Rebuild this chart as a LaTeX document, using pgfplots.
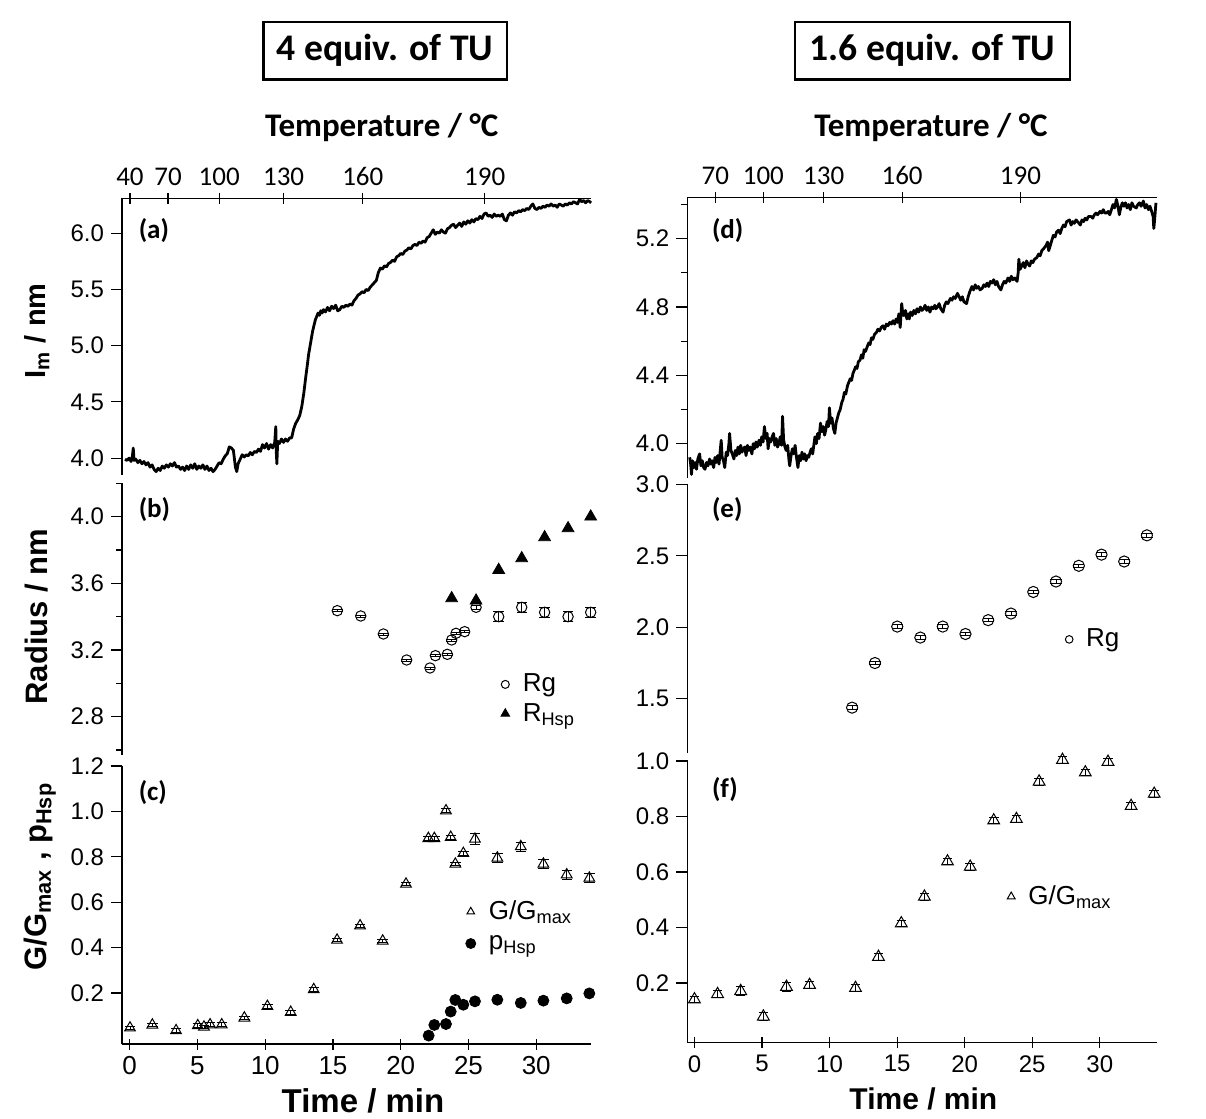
\documentclass[border=0pt]{standalone}
\usepackage{fontspec}
\setmainfont{Carlito}
\newfontfamily\arial{Liberation Sans}
\usepackage{graphicx}
\usepackage{pgfplots}
\pgfplotsset{compat=1.18}

\pgfplotsset{
  base/.style={
    scale only axis,
    clip=false,
    axis y line=left,
    axis line style={-, line width=0.6pt, black},
    tick align=outside,
    major tick length=5.5pt,
    minor tick length=3pt,
    tick style={line width=0.6pt, black},
    /pgf/number format/assume math mode=true,
    yticklabel style={font=\arial\fontsize{12}{13}\selectfont,
      /pgf/number format/fixed, /pgf/number format/fixed zerofill,
      /pgf/number format/precision=1},
  },
  noarrows/.style={
    x axis line style={-}, y axis line style={-},
    every inner x axis line/.append style={-},
    every outer x axis line/.append style={-},
    every inner y axis line/.append style={-},
    every outer y axis line/.append style={-},
  },
  leftcol/.style={base, width=234.55pt, xmin=-0.57, xmax=34.05},
  rightcol/.style={base, width=234.6pt, xmin=-0.53, xmax=34.2},
  errs/.style={error bars/y dir=both, error bars/y explicit,
    error bars/error bar style={line width=0.45pt, black},
    error bars/error mark options={rotate=90, mark size=#1, line width=0.45pt, black}},
  legmark/.style={legend image code/.code={\draw[##1, mark size=#1] plot coordinates {(0pt,0pt)};}},
  nolegbox/.style={legend style={draw=none, fill=none, inner sep=0pt,
    nodes={inner sep=0.6pt},
    /tikz/every odd column/.append style={column sep=6pt}}, legend cell align=left},
}
\newcommand{\lbl}[1]{\fontsize{13.5}{14}\selectfont\bfseries #1}

\begin{document}
\begin{tikzpicture}
\path[use as bounding box] (0,0) rectangle (603pt,-559.5pt);

% titles
\node[draw, line width=1.2pt, minimum width=121.7pt, minimum height=28.8pt, inner sep=0pt,
  font=\fontsize{18.8}{20}\selectfont\bfseries] at (192.5pt,-25.25pt) {4 equiv. of TU};
\node[draw, line width=1.2pt, minimum width=137.5pt, minimum height=28.8pt, inner sep=0pt,
  font=\fontsize{18.8}{20}\selectfont\bfseries] at (466.25pt,-25.25pt) {1.6 equiv. of TU};
\node[anchor=base, font=\fontsize{16.5}{17}\selectfont\bfseries] at (190.85pt,-68pt) {Temperature / °C};
\node[anchor=base, font=\fontsize{16.5}{17}\selectfont\bfseries] at (465.5pt,-68pt) {Temperature / °C};

% y labels
\node[rotate=90, font=\arial\bfseries\fontsize{14.5}{15}\selectfont] at (18.35pt,-165.4pt) {I\textsubscript{m} / nm};
\node[rotate=90, font=\arial\bfseries\fontsize{15.5}{16}\selectfont] at (18.35pt,-308.35pt) {Radius / nm};
\node[rotate=90, font=\arial\bfseries\fontsize{15.5}{16}\selectfont] at (20pt,-438.35pt) {G/G\textsubscript{max} , p\textsubscript{Hsp}};

% x labels
\node[anchor=base, font=\arial\bfseries\fontsize{16.5}{17}\selectfont] at (181.5pt,-556.3pt) {Time / min};
\node[anchor=base, font=\arial\bfseries\fontsize{15}{16}\selectfont] at (461.7pt,-554.65pt) {Time / min};

% ---------------- (a)
\begin{axis}[leftcol, at={(61pt,-237.5pt)}, anchor=south west, height=138.35pt,
  ymin=3.85, ymax=6.31, axis x line=top, noarrows,
  xtick={0.02,2.83,6.6,11.36,17.2,26.2}, xticklabels={40,70,100,130,160,190},
  xticklabel style={font=\fontsize{13.5}{14}\selectfont},
  ytick={4.0,4.5,5.0,5.5,6.0}]
\addplot[black, line width=1.4pt, line join=round] table {
t v
-0.35 3.99
-0.2 3.98
-0.05 4.00
0.1 3.97
0.2 4.02
0.26 4.09
0.32 3.98
0.45 3.99
0.6 3.96
0.75 3.98
0.9 3.95
1.05 3.97
1.2 3.94
1.35 3.96
1.5 3.92
1.65 3.94
1.8 3.90
1.95 3.88
2.1 3.91
2.25 3.89
2.4 3.93
2.55 3.91
2.7 3.94
2.85 3.92
3.0 3.95
3.15 3.93
3.3 3.96
3.45 3.92
3.6 3.93
3.75 3.90
3.9 3.92
4.05 3.89
4.2 3.93
4.35 3.90
4.5 3.94
4.65 3.91
4.8 3.95
4.95 3.90
5.1 3.93
5.25 3.91
5.4 3.94
5.55 3.90
5.7 3.93
5.85 3.89
6.0 3.91
6.15 3.88
6.3 3.90
6.45 3.93
6.6 3.96
6.75 3.95
6.9 3.99
7.05 4.02
7.2 4.04
7.35 4.10
7.5 4.09
7.65 4.07
7.8 3.92
7.9 3.88
8.0 3.95
8.15 3.99
8.3 4.03
8.45 4.01
8.6 4.03
8.75 4.02
8.9 4.05
9.05 4.03
9.2 4.06
9.35 4.05
9.5 4.08
9.65 4.06
9.8 4.12
9.95 4.09
10.1 4.13
10.25 4.08
10.4 4.12
10.55 4.09
10.7 4.14
10.78 4.28
10.82 4.05
10.86 3.95
10.92 4.15
11.05 4.13
11.2 4.17
11.35 4.14
11.5 4.17
11.65 4.15
11.8 4.18
11.95 4.18
12.1 4.26
12.25 4.31
12.4 4.34
12.55 4.38
12.7 4.46
12.85 4.58
13.0 4.73
13.1 4.82
13.2 4.92
13.3 4.99
13.4 5.06
13.5 5.13
13.6 5.18
13.7 5.23
13.8 5.26
13.9 5.29
14.0 5.27
14.1 5.31
14.2 5.29
14.3 5.32
14.45 5.30
14.6 5.34
14.75 5.31
14.9 5.35
15.05 5.33
15.2 5.36
15.35 5.31
15.5 5.32
15.65 5.35
15.8 5.34
15.95 5.36
16.1 5.35
16.25 5.37
16.4 5.36
16.55 5.40
16.7 5.42
16.85 5.45
17.0 5.46
17.15 5.48
17.3 5.47
17.45 5.50
17.6 5.49
17.75 5.52
17.9 5.54
18.05 5.56
18.2 5.58
18.35 5.65
18.5 5.69
18.65 5.68
18.8 5.71
18.95 5.70
19.1 5.73
19.25 5.74
19.4 5.76
19.55 5.75
19.7 5.79
19.85 5.80
20.0 5.82
20.15 5.81
20.3 5.84
20.45 5.85
20.6 5.87
20.75 5.86
20.9 5.89
21.05 5.90
21.2 5.89
21.35 5.92
21.5 5.91
21.65 5.93
21.8 5.92
21.95 5.96
22.1 5.97
22.25 6.00
22.4 6.03
22.55 5.99
22.7 6.01
22.85 6.00
23.0 6.03
23.15 6.01
23.3 6.00
23.45 6.04
23.6 6.05
23.75 6.07
23.9 6.08
24.05 6.05
24.2 6.07
24.35 6.09
24.5 6.06
24.65 6.10
24.8 6.08
24.95 6.11
25.1 6.09
25.25 6.12
25.4 6.10
25.55 6.13
25.7 6.12
25.85 6.15
26.0 6.13
26.15 6.17
26.3 6.18
26.45 6.15
26.6 6.16
26.75 6.14
26.9 6.17
27.05 6.15
27.2 6.16
27.35 6.15
27.5 6.17
27.65 6.12
27.8 6.11
27.95 6.16
28.1 6.18
28.25 6.16
28.4 6.19
28.55 6.18
28.7 6.20
28.85 6.19
29.0 6.21
29.15 6.20
29.3 6.22
29.45 6.21
29.6 6.24
29.75 6.26
29.9 6.22
30.05 6.21
30.2 6.23
30.35 6.22
30.5 6.24
30.65 6.23
30.8 6.25
30.95 6.24
31.1 6.26
31.25 6.24
31.4 6.25
31.55 6.23
31.7 6.26
31.85 6.25
32.0 6.24
32.15 6.26
32.3 6.25
32.45 6.27
32.6 6.26
32.75 6.28
32.9 6.27
33.05 6.26
33.2 6.30
33.35 6.28
33.5 6.29
33.65 6.27
33.8 6.29
33.95 6.28
34.05 6.27
};
\end{axis}
\node[anchor=west, font=\lbl{}] at (65.85pt,-115.5pt) {(a)};

% ---------------- (b)
\begin{axis}[leftcol, at={(61pt,-377.5pt)}, anchor=south west, height=135.85pt,
  ymin=2.57, ymax=4.2, axis x line=none, noarrows,
  ytick={2.8,3.2,3.6,4.0}, minor ytick={2.6,3.0,3.4,3.8,4.2},
  nolegbox, legend style={at={(0.807,0.206)}, anchor=west,
    font=\arial\fontsize{13}{14}\selectfont, row sep=3pt}]
\addplot[only marks, mark=o, mark size=2.6pt, mark options={line width=0.5pt, black}, errs=2.6pt, legmark=2pt]
  table[x index=0, y index=1, y error index=2] {
t v e
15.32 3.436 0.006
17.05 3.404 0.006
18.72 3.296 0.006
20.44 3.140 0.006
22.16 3.092 0.006
22.56 3.166 0.006
23.44 3.174 0.006
23.76 3.260 0.006
24.08 3.300 0.006
24.72 3.310 0.006
25.56 3.456 0.010
27.23 3.400 0.030
28.93 3.456 0.030
30.62 3.426 0.030
32.35 3.400 0.030
34.02 3.426 0.030
};
\addlegendentry{Rg}
\addplot[only marks, mark=triangle*, mark size=3.4pt, mark options={fill=black, draw=black}, legmark=2.5pt]
  table {
t v
23.76 3.510
25.56 3.496
27.23 3.680
28.93 3.750
30.62 3.876
32.35 3.930
34.02 4.000
};
\addlegendentry{R\textsubscript{Hsp}}
\end{axis}
\node[anchor=west, font=\lbl{}] at (65.85pt,-255pt) {(b)};

% ---------------- (c)
\begin{axis}[leftcol, at={(61pt,-522pt)}, anchor=south west, height=139pt,
  ymin=-0.025, ymax=1.2, axis x line=bottom, noarrows,
  xtick={0,5,10,15,20,25,30},
  xticklabel style={font=\arial\fontsize{13}{14}\selectfont},
  ytick={0.2,0.4,0.6,0.8,1.0,1.2},
  nolegbox, legend style={at={(0.732,0.423)}, anchor=west,
    font=\arial\fontsize{13}{14}\selectfont, row sep=5pt}]
\addplot[only marks, mark=triangle, mark size=3.1pt, mark options={line width=0.5pt, black}, errs=2.6pt, legmark=2.2pt]
  table[x index=0, y index=1, y error index=2] {
t v e
0.02 0.046 0.008
1.67 0.059 0.008
3.42 0.034 0.008
5.02 0.056 0.008
5.48 0.050 0.008
5.93 0.060 0.008
6.79 0.060 0.008
8.46 0.090 0.008
10.16 0.141 0.008
11.88 0.115 0.008
13.58 0.215 0.008
15.30 0.433 0.008
17.00 0.496 0.008
18.67 0.429 0.008
20.39 0.680 0.008
22.04 0.881 0.008
22.48 0.881 0.008
23.34 1.003 0.008
23.69 0.886 0.008
24.03 0.768 0.008
24.62 0.815 0.008
25.48 0.878 0.025
27.13 0.795 0.020
28.86 0.845 0.020
30.53 0.768 0.020
32.25 0.721 0.020
33.92 0.706 0.020
};
\addlegendentry{G/G\textsubscript{max}}
\addplot[only marks, mark=*, mark size=2.75pt, mark options={fill=black, draw=black}, legmark=2.5pt]
  table {
t v
22.06 0.012
22.48 0.059
23.34 0.063
23.69 0.118
24.03 0.169
24.62 0.148
25.48 0.163
27.13 0.170
28.86 0.156
30.53 0.166
32.25 0.176
33.92 0.198
};
\addlegendentry{p\textsubscript{Hsp}}
\end{axis}
\node[anchor=west, font=\lbl{}] at (65.85pt,-396.35pt) {(c)};

% ---------------- (d)
\begin{axis}[rightcol, at={(343.65pt,-238.9pt)}, anchor=south west, height=140.05pt,
  ymin=3.8, ymax=5.44, axis x line=top, noarrows,
  xtick={1.55,5.1,9.57,15.37,24.13}, xticklabels={70,100,130,160,190},
  xticklabel style={font=\fontsize{13.5}{14}\selectfont},
  ytick={4.0,4.4,4.8,5.2}, minor ytick={4.2,4.6,5.0,5.4}]
\addplot[black, line width=1.4pt, line join=round] table {
t v
-0.35 3.92
-0.28 3.88
-0.22 3.82
-0.15 3.90
-0.05 3.86
0.05 3.89
0.15 3.85
0.25 3.91
0.38 3.94
0.48 3.87
0.58 3.90
0.68 3.86
0.78 3.85
0.9 3.89
1.0 3.87
1.12 3.91
1.22 3.88
1.31 3.90
1.42 3.86
1.52 3.92
1.62 3.89
1.72 3.93
1.82 3.88
1.92 3.97
1.98 4.02
2.05 3.92
2.15 3.90
2.24 3.86
2.35 3.95
2.45 3.93
2.55 4.00
2.6 4.06
2.7 3.96
2.8 3.94
2.92 3.91
3.02 3.96
3.12 3.93
3.22 3.98
3.32 3.94
3.42 3.99
3.52 3.95
3.62 3.97
3.72 3.98
3.82 3.93
3.92 3.99
4.02 3.96
4.12 3.98
4.25 3.94
4.35 4.00
4.45 3.97
4.55 4.01
4.65 3.98
4.78 4.02
4.88 3.99
4.98 4.04
5.08 4.01
5.18 4.10
5.28 4.03
5.38 4.06
5.45 3.97
5.55 4.03
5.65 4.01
5.75 4.04
5.85 4.06
5.95 3.99
6.05 4.03
6.15 3.98
6.25 4.00
6.35 4.04
6.45 3.99
6.52 4.16
6.6 4.02
6.7 3.98
6.79 3.96
6.9 3.99
7.0 3.90
7.05 3.87
7.15 3.93
7.25 3.97
7.35 3.94
7.45 3.99
7.55 3.92
7.66 3.86
7.76 3.93
7.86 3.90
7.96 3.95
8.06 3.91
8.16 3.94
8.26 3.90
8.36 3.93
8.46 3.92
8.56 3.95
8.65 3.97
8.75 3.94
8.85 4.00
8.92 4.04
9.02 4.00
9.12 4.06
9.22 4.03
9.33 4.12
9.43 4.07
9.53 4.10
9.63 4.05
9.72 4.08
9.82 4.13
9.92 4.10
9.99 4.21
10.08 4.12
10.18 4.15
10.28 4.09
10.39 4.06
10.48 4.12
10.58 4.15
10.68 4.18
10.79 4.20
10.9 4.24
11.0 4.26
11.1 4.30
11.2 4.29
11.33 4.34
11.43 4.36
11.53 4.38
11.63 4.37
11.73 4.41
11.83 4.43
11.93 4.45
12.03 4.44
12.13 4.48
12.26 4.49
12.36 4.52
12.46 4.50
12.56 4.55
12.66 4.54
12.8 4.57
12.9 4.59
13.0 4.58
13.1 4.62
13.2 4.61
13.33 4.64
13.46 4.65
13.58 4.67
13.7 4.66
13.82 4.68
13.95 4.69
14.07 4.67
14.2 4.70
14.32 4.69
14.45 4.71
14.58 4.70
14.7 4.72
14.82 4.70
14.93 4.73
15.03 4.71
15.13 4.76
15.23 4.68
15.34 4.82
15.42 4.76
15.5 4.75
15.62 4.78
15.72 4.73
15.82 4.76
15.9 4.73
16.0 4.77
16.12 4.75
16.24 4.78
16.36 4.76
16.48 4.79
16.6 4.77
16.72 4.80
16.84 4.78
16.96 4.79
17.07 4.81
17.19 4.78
17.31 4.80
17.43 4.77
17.55 4.80
17.67 4.79
17.79 4.81
17.87 4.79
17.99 4.80
18.11 4.82
18.23 4.79
18.4 4.77
18.52 4.81
18.64 4.83
18.76 4.82
18.94 4.85
19.06 4.84
19.18 4.86
19.3 4.85
19.47 4.88
19.59 4.86
19.71 4.84
19.83 4.86
19.95 4.83
20.14 4.82
20.26 4.86
20.38 4.89
20.54 4.92
20.66 4.90
20.78 4.93
20.9 4.91
21.02 4.92
21.14 4.90
21.3 4.91
21.42 4.93
21.54 4.92
21.66 4.94
21.78 4.92
21.9 4.95
22.02 4.94
22.15 4.96
22.27 4.93
22.39 4.95
22.51 4.92
22.68 4.90
22.8 4.93
22.92 4.95
23.04 4.94
23.21 4.97
23.33 4.95
23.45 4.98
23.57 4.96
23.7 4.97
23.88 4.95
23.96 5.00
24.01 5.08
24.1 5.02
24.22 5.04
24.34 5.06
24.46 5.03
24.58 5.07
24.7 5.05
24.81 5.04
24.93 5.07
25.05 5.06
25.17 5.08
25.35 5.09
25.47 5.11
25.59 5.10
25.71 5.13
25.83 5.14
26.02 5.16
26.14 5.18
26.22 5.13
26.3 5.15
26.45 5.19
26.57 5.22
26.69 5.21
26.81 5.24
26.95 5.25
27.07 5.23
27.19 5.26
27.31 5.28
27.43 5.27
27.55 5.30
27.76 5.31
27.88 5.28
28.0 5.30
28.12 5.29
28.24 5.31
28.36 5.30
28.56 5.28
28.68 5.31
28.8 5.30
28.92 5.32
29.04 5.31
29.16 5.33
29.36 5.33
29.48 5.32
29.6 5.34
29.72 5.35
29.84 5.34
30.02 5.36
30.14 5.35
30.26 5.37
30.38 5.35
30.5 5.35
30.62 5.36
30.74 5.34
30.86 5.37
30.98 5.40
31.1 5.38
31.23 5.43
31.35 5.39
31.45 5.34
31.55 5.38
31.67 5.41
31.79 5.39
31.9 5.41
32.02 5.38
32.14 5.40
32.26 5.37
32.38 5.41
32.5 5.39
32.7 5.38
32.82 5.40
32.94 5.41
33.06 5.39
33.23 5.42
33.35 5.38
33.47 5.40
33.6 5.37
33.72 5.39
33.84 5.36
33.95 5.33
34.0 5.26
34.05 5.30
34.1 5.35
34.16 5.41
};
\end{axis}
\node[anchor=west, font=\lbl{}] at (352.5pt,-115.5pt) {(d)};

% ---------------- (e)
\begin{axis}[rightcol, at={(343.65pt,-376.55pt)}, anchor=south west, height=134.4pt,
  ymin=1.12, ymax=3.0, axis x line=none, noarrows,
  ytick={1.5,2.0,2.5,3.0},
  nolegbox, legend style={at={(0.805,0.423)}, anchor=west,
    font=\arial\fontsize{13}{14}\selectfont}]
\addplot[only marks, mark=o, mark size=2.8pt, mark options={line width=0.5pt, black}, errs=2.8pt, legmark=1.9pt]
  table[x index=0, y index=1, y error index=2] {
t v e
11.67 1.438 0.012
13.36 1.750 0.012
15.01 2.005 0.012
16.72 1.928 0.012
18.38 2.005 0.012
20.06 1.953 0.012
21.74 2.050 0.012
23.43 2.096 0.012
25.08 2.247 0.012
26.76 2.320 0.012
28.45 2.430 0.012
30.13 2.508 0.012
31.81 2.460 0.012
33.49 2.643 0.012
};
\addlegendentry{Rg}
\end{axis}
\node[anchor=west, font=\lbl{}] at (352.5pt,-254.65pt) {(e)};

% ---------------- (f)
\begin{axis}[rightcol, at={(343.65pt,-521.35pt)}, anchor=south west, height=141.5pt,
  ymin=-0.015, ymax=1.005, axis x line=bottom, noarrows,
  xtick={0,5,10,15,20,25,30},
  xticklabel style={font=\arial\fontsize{12}{13}\selectfont},
  ytick={0.2,0.4,0.6,0.8,1.0},
  nolegbox, legend style={at={(0.681,0.516)}, anchor=west,
    font=\arial\fontsize{13}{14}\selectfont}]
\addplot[only marks, mark=triangle, mark size=3.4pt, mark options={line width=0.5pt, black}, errs=2.4pt, legmark=2.3pt]
  table[x index=0, y index=1, y error index=2] {
t v e
0.00 0.141 0.012
1.71 0.160 0.012
3.42 0.171 0.015
5.10 0.079 0.015
6.81 0.186 0.015
8.52 0.193 0.012
11.92 0.182 0.012
13.62 0.294 0.012
15.31 0.415 0.012
17.02 0.511 0.012
18.73 0.638 0.012
20.41 0.619 0.012
22.15 0.786 0.012
23.83 0.791 0.012
25.51 0.926 0.012
27.24 1.004 0.012
28.93 0.959 0.012
30.61 0.997 0.012
32.32 0.838 0.012
34.03 0.882 0.012
};
\addlegendentry{G/G\textsubscript{max}}
\end{axis}
\node[anchor=west, font=\lbl{}] at (352.5pt,-395pt) {(f)};

\end{tikzpicture}
\end{document}
